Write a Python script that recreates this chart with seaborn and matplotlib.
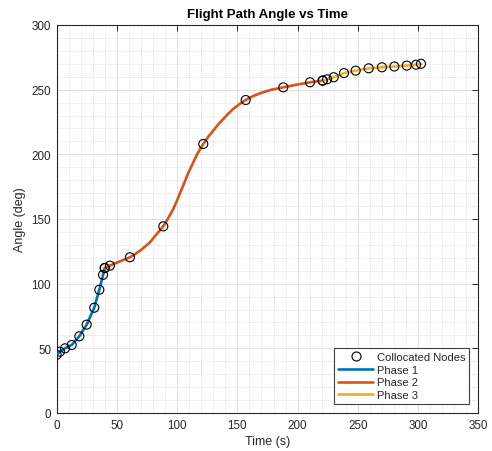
import numpy as np
import pandas as pd
import matplotlib
matplotlib.use("Agg")
import matplotlib.pyplot as plt
from matplotlib.lines import Line2D
from matplotlib.ticker import MultipleLocator
import seaborn as sns

# ---- data ----
# Phase 1 collocation nodes
t_phase1 = [0.0, 2.7, 6.9, 12.5, 18.8, 24.9, 31.2, 35.4, 38.5, 39.9]
a_phase1 = [45.0, 47.4, 50.0, 52.6, 59.3, 68.3, 81.4, 95.3, 106.8, 112.0]

# Phase 2 collocation nodes
t_nodes2 = [39.9, 44.2, 60.8, 88.5, 121.7, 156.9, 188.1, 210.3, 220.8]
a_nodes2 = [112.2, 113.9, 120.4, 144.3, 208.0, 242.0, 251.8, 255.7, 257.0]

# Phase 2 trajectory curve
t_phase2 = [39.9, 44.2, 50.0, 55.0, 60.8, 65.0, 70.0, 73.5, 77.5, 82.0, 88.5, 92.5,
            96.8, 100.0, 105.0, 109.0, 113.4, 117.0, 121.7, 126.0, 130.0, 134.0,
            138.3, 142.0, 147.0, 152.0, 156.9, 163.0, 170.0, 178.0, 188.1, 200.0,
            210.3, 220.8]
a_phase2 = [112.2, 113.9, 116.3, 118.2, 120.4, 122.8, 126.0, 128.8, 132.0, 137.2, 144.3, 150.5,
            157.7, 164.5, 175.8, 185.0, 193.8, 200.8, 208.0, 213.8, 218.3, 223.0,
            227.3, 231.0, 235.5, 239.0, 242.0, 245.0, 247.6, 249.9, 251.8, 254.0,
            255.7, 257.0]

# Phase 3 collocation nodes
t_phase3 = [220.8, 224.5, 230.0, 238.5, 248.2, 259.0, 270.0, 280.3, 290.6, 298.3, 302.4]
a_phase3 = [257.0, 258.0, 259.6, 262.8, 264.7, 266.5, 267.3, 267.9, 268.6, 269.3, 270.0]

x_ticks = [0, 50, 100, 150, 200, 250, 300, 350]
y_ticks = [0, 50, 100, 150, 200, 250, 300]

phase_labels = ["Phase 1", "Phase 2", "Phase 3"]
phase_colors = ["#0072BD", "#D95319", "#EDB120"]

# ---- style ----
sns.set_style("white")
plt.rcParams['font.family'] = ['Liberation Sans', 'DejaVu Sans']
txt = "#262626"

fig = plt.figure(figsize=(4.92, 4.52), dpi=100)
ax = fig.add_axes([0.1152, 0.0841, 0.857, 0.8584])

df1 = pd.DataFrame({"t": t_phase1, "a": a_phase1})
df2 = pd.DataFrame({"t": t_phase2, "a": a_phase2})
df3 = pd.DataFrame({"t": t_phase3, "a": a_phase3})
for df, c in zip([df1, df2, df3], phase_colors):
    line_kws = dict(solid_capstyle="round", solid_joinstyle="round")
    sns.lineplot(data=df, x="t", y="a", ax=ax, color=c, linewidth=1.9,
                 sort=False, estimator=None, zorder=3, **line_kws)

nodes = pd.DataFrame({
    "t": t_phase1 + t_nodes2 + t_phase3,
    "a": a_phase1 + a_nodes2 + a_phase3,
})
sns.scatterplot(data=nodes, x="t", y="a", ax=ax, marker="o", s=42,
                facecolors="none", edgecolors="black", linewidth=0.8, zorder=5)

ax.set_xlim(0, 350)
ax.set_ylim(0, 300)
ax.set_xticks(x_ticks)
ax.set_yticks(y_ticks)
ax.xaxis.set_minor_locator(MultipleLocator(10))
ax.yaxis.set_minor_locator(MultipleLocator(10))
ax.grid(True, which="major", color="#dcdcdc", linewidth=0.6, linestyle="-")
ax.grid(True, which="minor", color="#c4c4c4", linewidth=0.5, linestyle=(0, (1, 2)))
ax.set_axisbelow(True)

ax.tick_params(which="major", direction="in", length=4, width=0.7,
               top=True, right=True, colors=txt, labelsize=8.4, pad=4)
ax.tick_params(which="minor", length=0, top=True, right=True)
for s in ax.spines.values():
    s.set_color(txt)
    s.set_linewidth(0.8)

ax.set_title("Flight Path Angle vs Time", fontsize=9.5, fontweight="bold",
             color="black", pad=6)
ax.set_xlabel("Time (s)", fontsize=9, color=txt, labelpad=3)
ax.set_ylabel("Angle (deg)", fontsize=9, color=txt, labelpad=4)

handles = [Line2D([], [], linestyle="none", marker="o", markersize=6.5,
                  markerfacecolor="none", markeredgecolor="black", markeredgewidth=0.8)]
handles += [Line2D([], [], color=c, linewidth=1.9) for c in phase_colors]
labels = ["Collocated Nodes"] + phase_labels
leg = ax.legend(handles, labels, loc="lower right", bbox_to_anchor=(0.978, 0.023),
                borderaxespad=0, fontsize=8, handlelength=3.2, handletextpad=0.3,
                labelspacing=0.25, borderpad=0.35, fancybox=False, framealpha=1,
                edgecolor="#404040")
leg.get_frame().set_linewidth(0.8)

fig.savefig("out.png", dpi=100)
